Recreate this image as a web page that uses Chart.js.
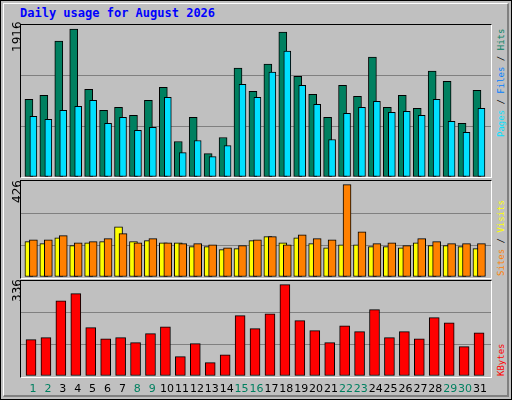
<!DOCTYPE html>
<html>
<head>
<meta charset="utf-8">
<script src="https://cdn.jsdelivr.net/npm/chart.js@4"></script>
<style>
  body { margin: 0; background: #fff; }
  #frame { position: absolute; left: 0; top: 0; width: 510px; height: 398px; border: 1px solid #000; background: #c0c0c0; }
  #inner { position: absolute; left: 2px; top: 2px; width: 503px; height: 391px; border-top: 1px solid #fff; border-left: 1px solid #fff; border-right: 2px solid #808080; border-bottom: 2px solid #808080; }
  .panel { position: absolute; left: 20px; width: 470px; border-top: 1px solid #000; border-left: 1px solid #000; border-right: 1px solid #fff; border-bottom: 1px solid #fff; }
  canvas { position: absolute; }
  .lbl { position: absolute; font: 12px "DejaVu Sans", sans-serif; white-space: nowrap; transform: rotate(-90deg); transform-origin: left top; }
  .rlbl { position: absolute; font: 9px "DejaVu Sans Mono", monospace; line-height: 12px; white-space: nowrap; transform: rotate(-90deg); transform-origin: left top; }
  #title { position: absolute; left: 20px; top: 6px; font: bold 12px "DejaVu Sans Mono", monospace; color: #0000ff; }
  .day { position: absolute; top: 382px; width: 20px; text-align: center; font: 11px "DejaVu Sans", sans-serif; }
</style>
</head>
<body>
<div id="frame"><div id="inner"></div></div>
<div id="title">Daily usage for August 2026</div>
<div class="panel" style="top:24px;height:152px"></div>
<div class="panel" style="top:180px;height:97px"></div>
<div class="panel" style="top:280px;height:96px"></div>
<canvas id="c1" width="470" height="152" style="left:21px;top:25px"></canvas>
<canvas id="c2" width="470" height="96" style="left:21px;top:181px"></canvas>
<canvas id="c3" width="470" height="95" style="left:21px;top:281px"></canvas>
<div class="lbl" style="left:10px;top:52px">1916</div>
<div class="lbl" style="left:10px;top:203px">426</div>
<div class="lbl" style="left:10px;top:302px">336</div>
<div class="rlbl" style="left:495px;top:137px"><span style="color:#00e0ff">Pages</span><span style="color:#000"> / </span><span style="color:#0080ff">Files</span><span style="color:#000"> / </span><span style="color:#008060">Hits</span></div>
<div class="rlbl" style="left:495px;top:276px"><span style="color:#ff8000">Sites</span><span style="color:#000"> / </span><span style="color:#ffff00">Visits</span></div>
<div class="rlbl" style="left:495px;top:376px"><span style="color:#ff0000">KBytes</span></div>
<div id="days"></div>
<script>
const days = [1,2,3,4,5,6,7,8,9,10,11,12,13,14,15,16,17,18,19,20,21,22,23,24,25,26,27,28,29,30,31];
const weekend = [1,2,8,9,15,16,22,23,29,30];
const hits = [1006,1058,1760,1916,1136,863,902,798,993,1162,460,772,303,512,1409,1110,1461,1877,1305,1071,772,1188,1045,1552,902,1058,889,1370,1240,694,1123];
const files = [785,746,863,915,993,694,772,603,642,1032,316,473,264,407,1201,1032,1357,1630,1188,941,486,824,902,980,837,850,798,1006,720,577,889];
const visits = [163,154,181,145,158,163,232,163,168,158,158,140,140,126,131,168,186,158,181,154,135,149,149,140,140,135,158,145,145,140,131];
const sites = [172,172,191,158,163,177,200,158,177,158,154,154,149,135,145,172,186,149,195,177,172,426,209,154,158,145,177,163,154,154,154];
const kbytes = [134,141,277,303,178,137,141,123,156,181,71,119,49,78,222,174,229,336,204,167,123,185,163,244,141,163,137,215,196,108,159];

const daysDiv = document.getElementById('days');
days.forEach((d, i) => {
  const el = document.createElement('div');
  el.className = 'day';
  el.textContent = d;
  el.style.left = (23 + i * 14.9) + 'px';
  el.style.color = weekend.includes(d) ? '#008060' : '#000';
  daysDiv.appendChild(el);
});

const pts = (vals, off) => vals.map((v, i) => ({x: days[i] + off, y: v}));

function makeChart(id, max, datasets) {
  new Chart(document.getElementById(id), {
    type: 'bar',
    data: {datasets},
    options: {
      responsive: false,
      animation: false,
      layout: {padding: 0},
      plugins: {legend: {display: false}, tooltip: {enabled: false}},
      scales: {
        x: {type: 'linear', min: 0.2, max: 31.67, offset: false, display: false},
        y: {
          min: 0, max: max,
          ticks: {display: false, stepSize: max / 3},
          border: {display: false},
          grid: {drawTicks: false, lineWidth: 1,
                 color: (c) => (c.index === 1 || c.index === 2) ? '#808080' : 'rgba(0,0,0,0)'}
        }
      }
    }
  });
}

const bar = (data, color, width, order) => ({
  data, backgroundColor: color, borderColor: '#000', borderWidth: 1,
  barThickness: width, order, borderSkipped: false, grouped: false
});

makeChart('c1', 1968, [
  bar(pts(files, 0.03), '#00e0ff', 7, 0),
  bar(pts(hits, -0.27), '#008060', 8, 1)
]);
makeChart('c2', 443, [
  bar(pts(sites, 0.03), '#ff8000', 8, 0),
  bar(pts(visits, -0.27), '#ffff00', 8, 1)
]);
makeChart('c3', 349.5, [
  bar(pts(kbytes, -0.13), '#ff0000', 10, 0)
]);
</script>
</body>
</html>
